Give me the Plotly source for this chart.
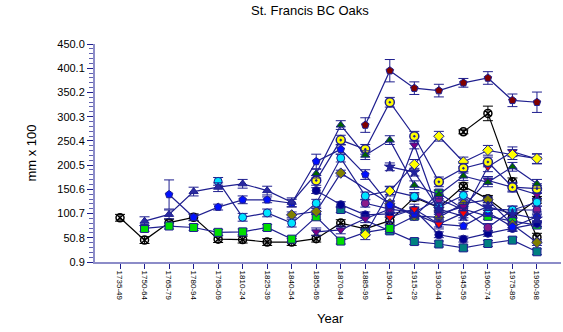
import plotly.graph_objects as go

periods = ["1735-49", "1750-64", "1765-79", "1780-94", "1795-09", "1810-24",
           "1825-39", "1840-54", "1855-69", "1870-84", "1885-99", "1900-14",
           "1915-29", "1930-44", "1945-59", "1960-74", "1975-89", "1990-98"]
y_ticks = [0.9, 50.8, 100.7, 150.6, 200.5, 250.4, 300.3, 350.2, 400.1, 450.0]

N = None
black_a = [92, 46, 82, 93, 48, 47, 42, 42, 49, 81, 69, 86, 134, 113, 157, 131, 93, 129]
black_b = [N, N, N, N, N, N, N, N, N, N, N, N, N, N, 269, 307, 166, 52]
black_b_err = [0, 0, 0, 0, 0, 0, 0, 0, 0, 0, 0, 0, 0, 0, 4, 15, 8, 8]
maroon = [N, N, N, N, N, N, N, N, N, N, 283, 395, 359, 354, 370, 380, 334, 330]
maroon_err = [0, 0, 0, 0, 0, 0, 0, 0, 0, 0, 15, 23, 13, 13, 9, 13, 13, 21]
triangle = [N, 85, 99, 146, 155, 162, 148, 124, 183, 283, 221, 252, 159, 140, 178, 165, 197, 162]
target = [N, N, N, N, N, N, N, N, 169, 252, 233, 330, 260, 166, 194, 207, 155, 152]
yellow = [N, N, N, N, N, N, N, N, N, N, 57, 147, 202, 260, 207, 231, 222, 214]
red_down = [N, N, N, N, N, N, N, N, N, N, N, 93, 110, 79, 102, 197, 228, 213]
cyan = [N, N, N, N, 167, 93, 102, 81, 122, 215, 137, 148, 136, 114, 138, 110, 108, 124]
blue_pent = [N, N, 140, 93, 114, 129, 129, 122, 208, 233, 181, 118, 100, 79, 75, 103, 73, 94]
blue_pent_err = [0, 0, 30, 6, 6, 8, 6, 8, 15, 10, 10, 8, 8, 6, 6, 8, 8, 10]
navy = [N, N, N, N, N, N, N, N, 148, 119, 98, 100, 108, 57, 48, 60, 70, 80]
teal = [N, N, N, N, N, N, N, N, N, 109, N, 65, 43, 38, 30, 39, 46, 22]
green_sq = [N, 70, 75, 72, 62, 63, 72, 48, 94, 44, 62, 70, 95, 143, 110, 95, 85, 77]
olive = [N, N, N, N, N, N, N, 98, 105, 184, N, 121, 96, 93, 121, 129, 78, 41]
purple = [N, N, N, N, N, N, N, N, N, N, 122, 110, 103, 131, 108, 72, 108, 108]
purple_down = [N, N, N, N, N, N, N, N, 63, 67, 90, 110, 242, 100, 115, 169, 155, 140]
star = [N, N, N, N, N, N, N, N, N, N, N, 197, 186, 110, 95, 115, 100, 90]

tri_colors = ["#2a2aa0"] * 8 + ["#006400"] * 10

series = [
    (black_a, 7, "circle-x-open", "black", "black"),
    (black_b, black_b_err, "circle-x-open", "black", "black"),
    (teal, 6, "square", "#008080", "#1f1f8f"),
    (green_sq, 6, "square", "#00dd00", "#1f1f8f"),
    (navy, 6, "circle", "#000090", "#1f1f8f"),
    (olive, 6, "diamond", "#808000", "#1f1f8f"),
    (purple, 8, "circle", "#8a1a8a", "#1f1f8f"),
    (purple_down, 8, "triangle-down", "#800080", "#1f1f8f"),
    (blue_pent, blue_pent_err, "pentagon", "#0010ff", "#1f1f8f"),
    (cyan, 8, "circle", "#00e5ff", "#1f1f8f"),
    (star, 8, "star", "#2020a0", "#1f1f8f"),
    (red_down, 10, "triangle-down", "#ff0000", "#1f1f8f"),
    (yellow, 10, "diamond", "#ffff00", "#1f1f8f"),
    (target, 10, "circle-dot", "#ffff00", "#1f1f8f"),
    (triangle, 9, "triangle-up", tri_colors, "#1f1f8f"),
    (maroon, maroon_err, "pentagon", "#800000", "#1f1f8f"),
]

xs = list(range(len(periods)))
fig = go.Figure()
for vals, err, sym, fill, line_col in series:
    if isinstance(err, list):
        err_kw = dict(type="data", array=err, visible=True)
    else:
        err_kw = dict(type="constant", value=err, visible=True)
    err_kw.update(color="#1f1f8f" if line_col != "black" else "black", thickness=1, width=5)
    open_sym = sym.endswith("open")
    fig.add_trace(go.Scatter(
        x=xs, y=vals, mode="lines+markers",
        connectgaps=True,
        line=dict(color=line_col, width=1.2),
        marker=dict(symbol=sym, size=8 if sym != "circle-dot" else 9,
                    color=fill,
                    line=dict(color=line_col, width=1.5 if open_sym or sym == "circle-dot" else 1)),
        error_y=err_kw,
        showlegend=False,
    ))

# plot area in page pixels: x 95..561, y 44..262
plot_w = 563 - 95 - 2
plot_h = 332 - 44 - 70

fig.update_layout(
    width=563, height=332,
    margin=dict(l=95, r=2, t=44, b=70),
    paper_bgcolor="white", plot_bgcolor="white",
    font=dict(family="Liberation Sans, Arial, sans-serif", color="black", size=11),
    annotations=[
        dict(text="St. Francis BC Oaks", x=(310 - 95) / plot_w, y=(262 - 11) / plot_h,
             xref="paper", yref="paper", xanchor="center", yanchor="middle",
             showarrow=False, font=dict(size=13)),
        dict(text="Year", x=(330 - 95) / plot_w, y=(262 - 318) / plot_h,
             xref="paper", yref="paper", xanchor="center", yanchor="middle",
             showarrow=False, font=dict(size=13)),
    ],
    xaxis=dict(
        range=[-1.02, 17.98], tickvals=xs, ticktext=periods, tickangle=90,
        tickfont=dict(size=8), showgrid=False, zeroline=False,
        showline=True, linecolor="#8c8cc8", linewidth=2,
        ticks="outside", ticklen=5, tickcolor="#1f1f8f",
    ),
    yaxis=dict(
        range=[0.9, 450.0], tickvals=y_ticks, ticktext=[f"{v:.1f}" for v in y_ticks],
        tickfont=dict(size=11), showgrid=False, zeroline=False,
        showline=True, linecolor="#8c8cc8", linewidth=2,
        ticks="outside", ticklen=6, tickcolor="#1f1f8f",
        minor=dict(ticks="outside", ticklen=4, tickcolor="#6060b0",
                   tickvals=[y_ticks[0] + 49.9 * k / 5 for k in range(46)]),
        title=dict(text="mm x 100", font=dict(size=13), standoff=18),
    ),
)

# the page body has a default 8px margin; drop it so the chart sits at the origin
fig.write_html("out.html", config={"displayModeBar": False},
               post_script="document.body.style.margin='0px';")
